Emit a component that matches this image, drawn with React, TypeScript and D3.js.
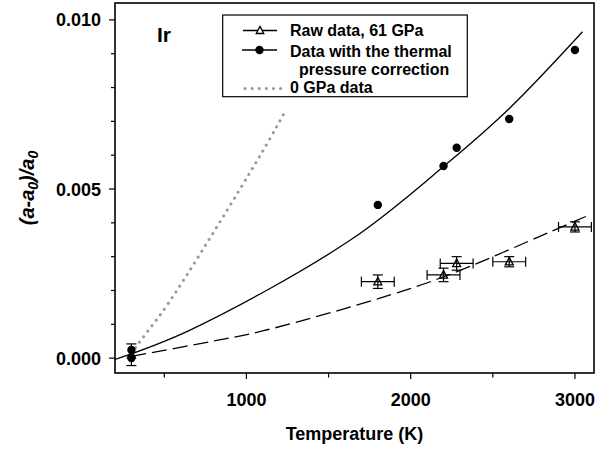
import React from "react";
import * as d3 from "d3";

// Solid fit (thermal pressure corrected)
const fitCorrT = [200, 657, 1633, 2223, 2602, 3046];
const fitCorrV = [-0.00004, 0.00083, 0.00349, 0.00576, 0.00739, 0.00965];
// Dashed fit (raw data)
const fitRawT = [300, 718, 1104, 1968, 2304, 2852, 3086];
const fitRawV = [0.00005, 0.00043, 0.00081, 0.00201, 0.0026, 0.00374, 0.00423];
// Dotted 0 GPa data
const zeroT = [300, 332, 389, 525, 1080, 1243];
const zeroV = [0.00014, 0.00036, 0.00073, 0.00162, 0.00596, 0.00736];
// Raw data, 61 GPa (triangles)
const rawT = [300, 1800, 2200, 2280, 2600, 3000];
const rawV = [0.0001, 0.00226, 0.00246, 0.0028, 0.00285, 0.00388];
const rawXErr = [0, 100, 100, 100, 100, 100];
const rawYErr = [0.00032, 0.0002, 0.0002, 0.0002, 0.00015, 0.00015];
// Corrected data (filled circles)
const corrT = [300, 300, 1800, 2200, 2280, 2600, 3000];
const corrV = [0.00024, 0.0, 0.00453, 0.00568, 0.00622, 0.00707, 0.00911];

const xMajor = [1000, 2000, 3000];
const xMinor = [500, 1500, 2500];
const yMajor = [0, 0.005, 0.01];
const yMinor = [0.001, 0.002, 0.003, 0.004, 0.006, 0.007, 0.008, 0.009];
const yLabels = ["0.000", "0.005", "0.010"];
const legendLabels = ["Raw data, 61 GPa", "Data with the thermal", "pressure correction", "0 GPa data"];

const FONT = "'Liberation Sans', Arial, Helvetica, sans-serif";

export default function App() {
  const L = 115, R = 594, T = 3, B = 373;
  const x = d3.scaleLinear().domain([200, 3116]).range([L, R]);
  const y = d3.scaleLinear().domain([-0.00044, 0.0105]).range([B, T]);

  const line = d3
    .line<[number, number]>()
    .x((d) => x(d[0]))
    .y((d) => y(d[1]))
    .curve(d3.curveCatmullRom.alpha(0.5));

  const corrFit = line(fitCorrT.map((t, i) => [t, fitCorrV[i]]));
  const rawFit = line(fitRawT.map((t, i) => [t, fitRawV[i]]));
  const zeroFit = line(zeroT.map((t, i) => [t, zeroV[i]]));

  const tri = (cx: number, cy: number, s: number) =>
    `M${cx},${cy - s * 0.55} L${cx + s * 0.5},${cy + s * 0.4} L${cx - s * 0.5},${cy + s * 0.4} Z`;

  return (
    <svg
      width={613}
      height={451}
      style={{ position: "absolute", left: 0, top: 0, background: "#fff" }}
      fontFamily={FONT}
    >
      <rect x={0} y={0} width={613} height={451} fill="#fff" />
      <defs>
        <clipPath id="plot">
          <rect x={L} y={T} width={R - L} height={B - T} />
        </clipPath>
      </defs>

      {/* curves */}
      <g clipPath="url(#plot)" fill="none">
        <path d={zeroFit || ""} stroke="#999" strokeWidth={3} strokeDasharray="0.1 6.8" strokeLinecap="round" />
        <path d={corrFit || ""} stroke="#000" strokeWidth={1.3} />
        <path d={rawFit || ""} stroke="#000" strokeWidth={1.3} strokeDasharray="15 6" />
      </g>

      {/* raw data error bars + triangles */}
      <g stroke="#000" strokeWidth={1.2} fill="none">
        {rawT.map((t, i) => {
          const cx = x(t), cy = y(rawV[i]);
          const x0 = x(t - rawXErr[i]), x1 = x(t + rawXErr[i]);
          const y0 = y(rawV[i] - rawYErr[i]), y1 = y(rawV[i] + rawYErr[i]);
          return (
            <g key={"r" + i}>
              {rawXErr[i] > 0 && (
                <>
                  <line x1={x0} x2={x1} y1={cy} y2={cy} />
                  <line x1={x0} x2={x0} y1={cy - 5} y2={cy + 5} />
                  <line x1={x1} x2={x1} y1={cy - 5} y2={cy + 5} />
                </>
              )}
              <line x1={cx} x2={cx} y1={y0} y2={y1} />
              <line x1={cx - 5} x2={cx + 5} y1={y0} y2={y0} />
              <line x1={cx - 5} x2={cx + 5} y1={y1} y2={y1} />
              <path d={tri(cx, cy, 8)} strokeWidth={1.3} />
            </g>
          );
        })}
      </g>

      {/* corrected data circles */}
      <g fill="#000">
        {corrT.map((t, i) => (
          <circle key={"c" + i} cx={x(t)} cy={y(corrV[i])} r={4.2} />
        ))}
      </g>

      {/* frame */}
      <rect x={L} y={T} width={R - L} height={B - T} fill="none" stroke="#000" strokeWidth={1.6} />

      {/* x ticks */}
      <g stroke="#000" strokeWidth={1.2}>
        {xMajor.map((v) => (
          <line key={"xm" + v} x1={x(v)} x2={x(v)} y1={B} y2={B + 6} />
        ))}
        {xMinor.map((v) => (
          <line key={"xn" + v} x1={x(v)} x2={x(v)} y1={B} y2={B + 4.5} />
        ))}
        {yMajor.map((v) => (
          <line key={"ym" + v} x1={L - 6} x2={L} y1={y(v)} y2={y(v)} />
        ))}
        {yMinor.map((v) => (
          <line key={"yn" + v} x1={L - 4} x2={L} y1={y(v)} y2={y(v)} />
        ))}
      </g>
      <g fontSize={18} fontWeight="bold" fill="#000">
        {xMajor.map((v) => (
          <text key={"xl" + v} x={x(v)} y={406} textAnchor="middle">
            {d3.format("d")(v)}
          </text>
        ))}
        {yMajor.map((v, i) => (
          <text key={"yl" + v} x={101} y={y(v) + 6.5} textAnchor="end">
            {yLabels[i]}
          </text>
        ))}
        <text x={(L + R) / 2} y={440} textAnchor="middle">
          Temperature (K)
        </text>
        <text
          transform={`translate(34, 188) rotate(-90)`}
          textAnchor="middle"
          fontStyle="italic"
          fontSize={20}
        >
          (a-a<tspan fontSize={14} dy={4}>0</tspan>
          <tspan dy={-4}>)/a</tspan>
          <tspan fontSize={14} dy={4}>0</tspan>
        </text>
      </g>

      <text x={157} y={42} fontSize={21} fontWeight="bold" fill="#000">
        Ir
      </text>

      {/* legend */}
      <rect x={222.7} y={15} width={244.6} height={81.7} fill="#fff" stroke="#000" strokeWidth={1.2} />
      <g stroke="#000" strokeWidth={1.3} fill="none">
        <line x1={243} x2={277} y1={30.5} y2={30.5} />
        <path d={tri(260, 30.5, 7.5)} fill="#fff" />
        <line x1={242} x2={277} y1={50} y2={50} />
        <circle cx={259.5} cy={50} r={4.2} fill="#000" stroke="none" />
        <line x1={245} x2={281} y1={88.5} y2={88.5} stroke="#999" strokeWidth={3} strokeDasharray="0.1 7" strokeLinecap="round" />
      </g>
      <g fontSize={16} fontWeight="bold" fill="#000">
        <text x={290} y={36}>{legendLabels[0]}</text>
        <text x={290} y={56.5}>{legendLabels[1]}</text>
        <text x={299} y={74.5}>{legendLabels[2]}</text>
        <text x={290} y={92.5}>{legendLabels[3]}</text>
      </g>
    </svg>
  );
}
